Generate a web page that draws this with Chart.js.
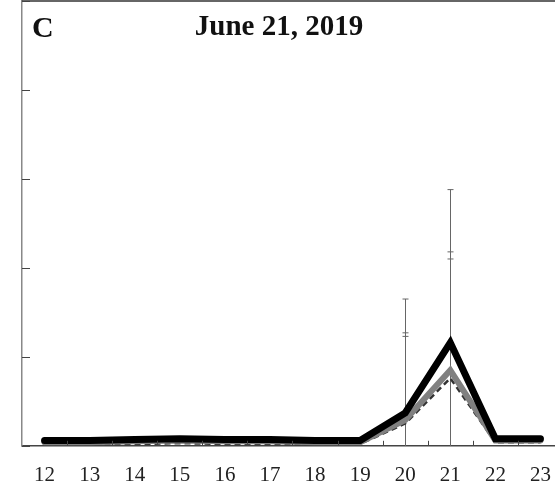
<!DOCTYPE html>
<html>
<head>
<meta charset="utf-8">
<script src="https://cdn.jsdelivr.net/npm/chart.js@4"></script>
<style>
  html, body { margin: 0; padding: 0; background: #fff; overflow: hidden; }
  #wrap { position: relative; width: 568px; height: 508px; }
</style>
</head>
<body>
<div id="wrap"><canvas id="chart"></canvas></div>
<script>
// Hours of the day (x categories)
const hours = ['12', '13', '14', '15', '16', '17', '18', '19', '20', '21', '22', '23'];

// Three series (thick black, thick gray, thin dashed)
const blackVals = [0.06, 0.06, 0.07, 0.08, 0.07, 0.07, 0.06, 0.06, 0.37, 1.16, 0.08, 0.08];
const grayVals  = [0.04, 0.04, 0.05, 0.06, 0.05, 0.05, 0.04, 0.04, 0.29, 0.85, 0.06, 0.06];
const dashVals  = [0.02, 0.02, 0.02, 0.03, 0.02, 0.02, 0.02, 0.02, 0.25, 0.76, 0.04, 0.04];

// Error bar half-widths
const blackErr = [0, 0, 0, 0, 0, 0, 0, 0, 1.28, 1.72, 0, 0];
const grayErr  = [0, 0, 0, 0, 0, 0, 0, 0, 0.98, 1.33, 0, 0];
const dashErr  = [0, 0, 0, 0, 0, 0, 0, 0, 0.98, 1.34, 0, 0];

// y axis: 0..5, ticks every 1 (no labels)
const yMin = 0, yMax = 5, yStep = 1;

const titleText = 'June 21, 2019';
const panelLetter = 'C';

// Error bars, drawn under the lines
const errorBars = {
    id: 'errorBars',
    beforeDatasetsDraw(chart) {
        const { ctx, chartArea, scales: { x, y } } = chart;
        ctx.save();
        ctx.beginPath();
        ctx.rect(chartArea.left, chartArea.top, chartArea.right - chartArea.left, chartArea.bottom - chartArea.top);
        ctx.clip();
        ctx.strokeStyle = '#666';
        ctx.lineWidth = 1;
        chart.data.datasets.forEach(ds => {
            ds.data.forEach((v, i) => {
                const e = ds.errors[i];
                if (!e) return;
                const px = Math.round(x.getPixelForValue(i)) + 0.5;
                const top = y.getPixelForValue(v + e);
                const bot = y.getPixelForValue(v - e);
                ctx.beginPath();
                ctx.moveTo(px, top);
                ctx.lineTo(px, bot);
                ctx.moveTo(px - 3, top);
                ctx.lineTo(px + 3, top);
                ctx.moveTo(px - 3, bot);
                ctx.lineTo(px + 3, bot);
                ctx.stroke();
            });
        });
        ctx.restore();
    }
};

// Frame, inward ticks, title and panel letter
const frame = {
    id: 'frame',
    afterDraw(chart) {
        const { ctx, chartArea, scales: { x, y } } = chart;
        ctx.save();
        // top border
        ctx.strokeStyle = '#333';
        ctx.lineWidth = 1.5;
        ctx.beginPath();
        ctx.moveTo(chartArea.left, chartArea.top);
        ctx.lineTo(chartArea.right, chartArea.top);
        ctx.stroke();

        // y ticks pointing inward
        ctx.strokeStyle = '#444';
        ctx.lineWidth = 1;
        y.ticks.forEach(t => {
            const py = Math.round(y.getPixelForValue(t.value)) + 0.5;
            ctx.beginPath();
            ctx.moveTo(chartArea.left, py);
            ctx.lineTo(chartArea.left + 8, py);
            ctx.stroke();
        });

        // x ticks on category boundaries, pointing inward
        const n = hours.length;
        for (let i = 1; i < n; i++) {
            const px = Math.round(x.left + x.width * i / n) + 0.5;
            ctx.beginPath();
            ctx.moveTo(px, chartArea.bottom);
            ctx.lineTo(px, chartArea.bottom - 5);
            ctx.stroke();
        }

        // title and letter
        ctx.fillStyle = '#111';
        ctx.textBaseline = 'alphabetic';
        ctx.font = 'bold 29px "Liberation Serif", "DejaVu Serif", serif';
        ctx.textAlign = 'center';
        ctx.fillText(titleText, 279, 35);
        ctx.font = 'bold 30px "Liberation Serif", "DejaVu Serif", serif';
        ctx.textAlign = 'left';
        ctx.fillText(panelLetter, 32, 37);
        ctx.restore();
    }
};

new Chart(document.getElementById('chart'), {
    type: 'line',
    data: {
        labels: hours,
        datasets: [{
            label: 'black',
            data: blackVals,
            errors: blackErr,
            borderColor: '#000',
            borderWidth: 7,
            borderCapStyle: 'round',
            borderJoinStyle: 'miter',
            pointRadius: 0,
            tension: 0,
            fill: false
        }, {
            label: 'gray',
            data: grayVals,
            errors: grayErr,
            borderColor: '#808080',
            borderWidth: 6,
            borderCapStyle: 'round',
            borderJoinStyle: 'miter',
            pointRadius: 0,
            tension: 0,
            fill: false
        }, {
            label: 'dashed',
            data: dashVals,
            errors: dashErr,
            borderColor: '#333',
            borderWidth: 2.5,
            borderDash: [6, 4],
            pointRadius: 0,
            tension: 0,
            fill: false
        }]
    },
    options: {
        responsive: true,
        maintainAspectRatio: false,
        animation: false,
        layout: { padding: { left: 22, top: 1, right: 1, bottom: 3 } },
        plugins: {
            legend: { display: false },
            title: { display: false },
            tooltip: { enabled: false }
        },
        scales: {
            x: {
                offset: true,
                grid: { display: false, drawTicks: false, offset: true },
                border: { display: true, color: '#444', width: 1.5 },
                ticks: {
                    color: '#222',
                    padding: 17,
                    maxRotation: 0,
                    autoSkip: false,
                    font: { family: '"Liberation Serif", "DejaVu Serif", serif', size: 21 }
                }
            },
            y: {
                min: yMin,
                max: yMax,
                grid: { display: false, drawTicks: false },
                border: { display: true, color: '#888', width: 1.5 },
                ticks: { display: false, stepSize: yStep }
            }
        }
    },
    plugins: [errorBars, frame]
});
</script>
</body>
</html>
